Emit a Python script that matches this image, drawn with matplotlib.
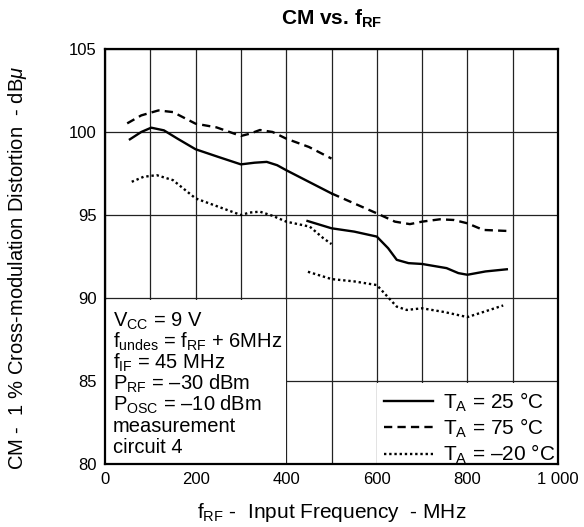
import numpy as np
import matplotlib
matplotlib.use('Agg')
import matplotlib.pyplot as plt
from matplotlib.patches import Rectangle

plt.rcParams['font.family'] = ['Liberation Sans', 'DejaVu Sans']
plt.rcParams['mathtext.fontset'] = 'custom'
plt.rcParams['mathtext.rm'] = 'Liberation Sans'
plt.rcParams['mathtext.it'] = 'Liberation Sans:italic'
plt.rcParams['mathtext.bf'] = 'Liberation Sans:bold'

# CM vs. fRF, three temperatures (NaN splits the two measured segments)
nan = np.nan
f_25 = [55, 80, 102, 130, 160, 200, 250, 300, 330, 357, 380, 400, 450, 500, nan,
        447, 500, 550, 600, 625, 644, 670, 700, 754, 780, 800, 840, 887]
cm_25 = [99.56, 100.0, 100.26, 100.1, 99.6, 98.96, 98.5, 98.05, 98.15, 98.2, 98.0, 97.7, 97.0, 96.3, nan,
         94.64, 94.2, 94.0, 93.7, 93.0, 92.3, 92.1, 92.05, 91.8, 91.5, 91.4, 91.6, 91.73]

f_75 = [49, 80, 118, 150, 200, 246, 300, 320, 342, 370, 400, 450, 500, nan,
        500, 550, 600, 640, 673, 700, 739, 770, 800, 835, 887]
cm_75 = [100.52, 101.0, 101.3, 101.2, 100.5, 100.28, 99.76, 99.9, 100.12, 100.0, 99.6, 99.1, 98.4, nan,
         96.3, 95.7, 95.1, 94.6, 94.45, 94.6, 94.74, 94.7, 94.5, 94.1, 94.04]

f_m20 = [59, 85, 114, 150, 200, 250, 300, 320, 342, 370, 400, 452, 482, 500, nan,
         448, 500, 550, 600, 644, 666, 700, 750, 800, 840, 879]
cm_m20 = [97.0, 97.3, 97.4, 97.1, 96.0, 95.5, 95.0, 95.15, 95.2, 94.95, 94.6, 94.3, 93.6, 93.25, nan,
          91.58, 91.14, 91.0, 90.78, 89.48, 89.28, 89.38, 89.15, 88.85, 89.2, 89.55]

labels = [r'T$_\mathrm{A}$ = 25 °C', r'T$_\mathrm{A}$ = 75 °C', r'T$_\mathrm{A}$ = –20 °C']

conditions = [r'V$_\mathrm{CC}$ = 9 V',
              r'f$_\mathrm{undes}$ = f$_\mathrm{RF}$ + 6MHz',
              r'f$_\mathrm{IF}$ = 45 MHz',
              r'P$_\mathrm{RF}$ = –30 dBm',
              r'P$_\mathrm{OSC}$ = –10 dBm',
              'measurement',
              'circuit 4']

fig = plt.figure(figsize=(5.84, 5.27), dpi=100)
ax = fig.add_axes([105/584, 1-464/527, 453/584, 415/527])

ax.plot(f_25, cm_25, color='black', lw=1.7, ls='-', label=labels[0], zorder=3)
ax.plot(f_75, cm_75, color='black', lw=1.7, ls=(0, (3.5, 2.2)), label=labels[1], zorder=3)
ax.plot(f_m20, cm_m20, color='black', lw=1.7, ls=(0, (1, 1.2)), label=labels[2], zorder=3)

ax.set_xlim(0, 1000)
ax.set_ylim(80, 105)
ax.set_xticks(np.arange(0, 1001, 200))
ax.set_xticklabels(['0', '200', '400', '600', '800', '1 000'])
ax.set_xticks(np.arange(0, 1001, 100), minor=True)
ax.set_yticks(np.arange(80, 106, 5))
ax.tick_params(which='both', length=0, labelsize=12, colors='black', pad=6)
ax.set_axisbelow(True)
ax.grid(which='both', color='#222222', lw=0.9)
for s in ax.spines.values():
    s.set_linewidth(1.6)

# white areas hiding the grid behind the notes and the legend
ax.add_patch(Rectangle((0, 80), 399, 9.9, facecolor='white', edgecolor='none', zorder=1))
ax.add_patch(Rectangle((601, 80), 399, 4.9, facecolor='white', edgecolor='none', zorder=1))

for i, t in enumerate(conditions):
    yb = 326.7 + 21.05 * i
    ax.text(0.018, (464 - yb) / 415, t, transform=ax.transAxes, fontsize=14.5,
            ha='left', va='baseline', zorder=4)

leg = ax.legend(loc='lower right', bbox_to_anchor=(1.0, -0.013), frameon=False, fontsize=15,
                handlelength=2.35, handletextpad=0.45, labelspacing=0.14, borderaxespad=0.1,
                borderpad=0.05)

ax.text(0.5, (464 - 19) / 415, r'CM vs. f$_\mathbf{RF}$', transform=ax.transAxes,
        fontsize=15, fontweight='bold', ha='center', va='center')

ax.set_xlabel(r'f$_\mathrm{RF}$ -  Input Frequency  - MHz', fontsize=15)
ax.xaxis.set_label_coords(0.5, (464 - 513) / 415)
ax.xaxis.label.set_va('center')
ax.set_ylabel(r'CM -  1 % Cross-modulation Distortion  - dB$\mu$', fontsize=14.5)
ax.yaxis.set_label_coords((18 - 105) / 453, (464 - 268) / 415)
ax.yaxis.label.set_va('center')

fig.savefig('out.png', dpi=100)
